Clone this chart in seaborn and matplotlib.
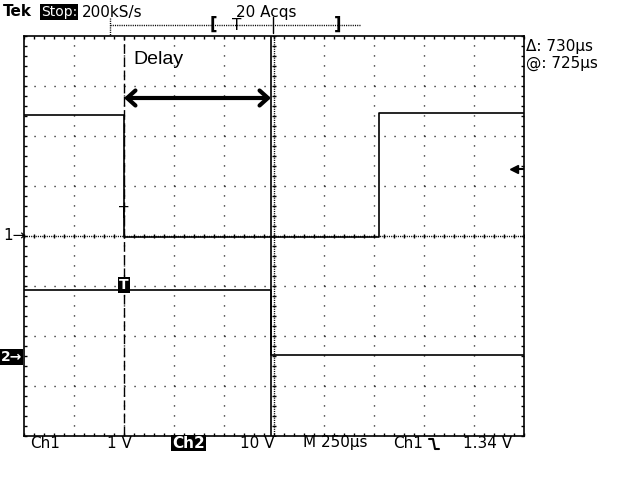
"""Recreate a Tek scope screenshot showing the delay between Ch1 and Ch2 edges."""

import matplotlib

matplotlib.use("Agg")

import matplotlib.pyplot as plt
import numpy as np
import pandas as pd
import seaborn as sns
from matplotlib.lines import Line2D
from matplotlib.ticker import MultipleLocator

# time in microseconds across the 10 divisions (250 us/div), level in divisions
TIME_PER_DIV = 250
N_XDIV = 10
N_YDIV = 8

ch1_time = [0, 500, 500, 1777, 1777, 2500]
ch1_level = [6.42, 6.42, 3.98, 3.98, 6.46, 6.46]
ch2_time = [0, 1235, 1235, 2500]
ch2_level = [2.92, 2.92, 1.62, 1.62]

ch1_ground = 4.0
ch2_ground = 1.58
trigger_volts = 1.34
cursor_times = [500, 1235]

top_labels = ["Tek", "Stop:", "200kS/s", "20 Acqs"]
bottom_labels = ["Ch1", "1 V", "Ch2", "10 V", "M 250µs", "Ch1", "1.34 V"]
cursor_labels = ["Δ: 730µs", "@: 725µs"]

W, H = 640, 480


def fx(px):
    return px / W


def fy(py):
    return 1 - py / H


sns.set_theme(style="white")
plt.rcParams["font.family"] = ["DejaVu Sans"]
plt.rcParams["text.color"] = "black"

fig = plt.figure(figsize=(6.4, 4.8), dpi=100)
fig.patch.set_facecolor("white")
ax = fig.add_axes([fx(24), fy(436), 500 / W, 400 / H])
ax.set_xlim(0, N_XDIV * TIME_PER_DIV)
ax.set_ylim(0, N_YDIV)

# graticule
dot_style = (0, (0.8, 6.4))
for i in range(1, N_XDIV):
    if i != N_XDIV // 2:
        ax.axvline(i * TIME_PER_DIV, color="black", lw=1, ls=dot_style, zorder=1)
for j in range(1, N_YDIV):
    if j != N_YDIV // 2:
        ax.axhline(j, color="black", lw=1, ls=dot_style, zorder=1)

xc = N_XDIV * TIME_PER_DIV / 2
yc = N_YDIV / 2
ax.axvline(xc, color="black", lw=1, ls=(0, (0.8, 0.8)), zorder=1)
ax.axhline(yc, color="black", lw=1, ls=(0, (0.8, 0.8)), zorder=1)
ax.plot(np.full(N_YDIV * 5 + 1, xc), np.arange(0, N_YDIV + 0.01, 0.2),
        ls="none", marker="_", ms=3, mew=1, color="black", zorder=1)
ax.plot(np.arange(0, N_XDIV * TIME_PER_DIV + 1, TIME_PER_DIV / 5), np.full(N_XDIV * 5 + 1, yc),
        ls="none", marker="|", ms=3, mew=1, color="black", zorder=1)

for side in ax.spines.values():
    side.set_color("black")
    side.set_linewidth(1.2)
ax.xaxis.set_major_locator(MultipleLocator(TIME_PER_DIV))
ax.xaxis.set_minor_locator(MultipleLocator(TIME_PER_DIV / 5))
ax.yaxis.set_major_locator(MultipleLocator(1))
ax.yaxis.set_minor_locator(MultipleLocator(0.2))
ax.tick_params(which="both", direction="in", length=2.5, width=1, color="black",
               top=True, right=True, bottom=True, left=True,
               labelbottom=False, labelleft=False)

# cursors
ax.axvline(cursor_times[0], color="black", lw=1, ls=(0, (7, 2.5)), zorder=2)
ax.axvline(cursor_times[1], color="black", lw=1.2, zorder=2)

# traces
traces = pd.concat([
    pd.DataFrame({"time_us": ch1_time, "div": ch1_level, "channel": "Ch1"}),
    pd.DataFrame({"time_us": ch2_time, "div": ch2_level, "channel": "Ch2"}),
], ignore_index=True)
sns.lineplot(data=traces, x="time_us", y="div", units="channel", estimator=None,
             sort=False, color="black", lw=1.2, ax=ax, zorder=3)
ax.set_xlabel("")
ax.set_ylabel("")

# delay arrow
ax.annotate("", xy=(cursor_times[1], 6.76), xytext=(cursor_times[0], 6.76),
            arrowprops=dict(arrowstyle="<->,head_length=0.5,head_width=0.45",
                            lw=3, color="black", shrinkA=0, shrinkB=0))
fig.text(fx(133), fy(59), "Delay", fontsize=14, family="Liberation Sans", va="center", ha="left")

# trigger markers on the traces
ax.text(cursor_times[0], 4.45, "T", fontsize=11, ha="center", va="center", zorder=4)
ax.text(cursor_times[0], ch2_level[0] + 0.1, "T", fontsize=10, ha="center", va="center",
        color="white", fontweight="bold", zorder=4,
        bbox=dict(facecolor="black", edgecolor="none", pad=0.8))

# trigger level arrow on the right
trig_div = ch1_ground + trigger_volts
ax.plot([2452, 2500], [trig_div, trig_div], color="black", lw=1.5, zorder=4)
ax.plot([2452], [trig_div], marker="<", ms=6, color="black", zorder=4)

# ground markers on the left
fig.text(fx(3), fy(236), "1→", fontsize=11, va="center", ha="left")
fig.text(fx(1), fy(357), "2→", fontsize=10, va="center", ha="left", color="white",
         fontweight="bold", bbox=dict(facecolor="black", edgecolor="none", pad=0.5))

# top status line
fs = 11
fig.text(fx(3), fy(12), top_labels[0], fontsize=fs, fontweight="bold", va="center", ha="left")
fig.text(fx(41), fy(12), top_labels[1], fontsize=10, va="center", ha="left",
         color="white", bbox=dict(facecolor="black", edgecolor="none", pad=0.4))
fig.text(fx(82), fy(12), top_labels[2], fontsize=fs, va="center", ha="left")
fig.text(fx(236), fy(12), top_labels[3], fontsize=fs, va="center", ha="left")

# record view bar
fig.add_artist(Line2D([fx(110), fx(360)], [fy(25), fy(25)], transform=fig.transFigure,
                      color="black", lw=1, ls=(0, (0.8, 0.8))))
fig.add_artist(Line2D([fx(110), fx(110)], [fy(18), fy(35)], transform=fig.transFigure,
                      color="black", lw=1, ls=(0, (0.8, 0.8))))
fig.add_artist(Line2D([fx(273), fx(273)], [fy(17), fy(33)], transform=fig.transFigure,
                      color="black", lw=1))
fig.text(fx(213), fy(25), "[", fontsize=12, fontweight="bold", va="center", ha="center")
fig.text(fx(237), fy(25), "T", fontsize=11, va="center", ha="center")
fig.text(fx(338), fy(25), "]", fontsize=12, fontweight="bold", va="center", ha="center")

# cursor readout
fig.text(fx(526), fy(47), cursor_labels[0], fontsize=fs, va="center", ha="left")
fig.text(fx(526), fy(63), cursor_labels[1], fontsize=fs, va="center", ha="left")

# bottom status line
bottom_x = [30, 107, 172, 240, 303, 393, 463]
for label, x in zip(bottom_labels, bottom_x):
    kw = dict(fontsize=fs, va="center", ha="left")
    if label == "Ch2":
        kw.update(color="white", fontweight="bold",
                  bbox=dict(facecolor="black", edgecolor="none", pad=0.6))
    fig.text(fx(x), fy(443), label, **kw)

# falling-edge trigger slope symbol
fig.add_artist(Line2D([fx(429), fx(433), fx(435), fx(439)],
                      [fy(439), fy(439), fy(449), fy(449)],
                      transform=fig.transFigure, color="black", lw=1.5))

fig.savefig("out.png", dpi=100, facecolor="white")
